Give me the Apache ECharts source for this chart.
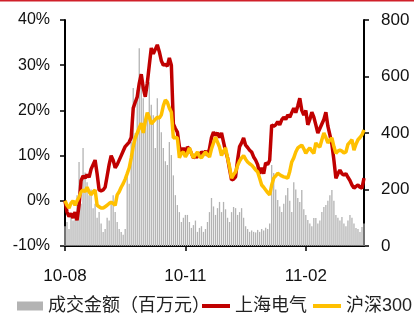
<!DOCTYPE html>
<html>
<head>
<meta charset="utf-8">
<script src="https://cdn.jsdelivr.net/npm/echarts@6/dist/echarts.min.js"></script>
<style>
html,body{margin:0;padding:0;background:#fff;}
#chart{width:414px;height:316px;}
</style>
</head>
<body>
<div id="chart"></div>
<script>
// Tick labels on the time axis and the category index they sit at
const tickLabels = ['10-08', '10-11', '11-02'];
const tickIndex = [0, 60, 120];

// 成交金额 (百万元), right axis
const volume = [
  70, 85, 60, 110, 90, 120, 180, 297, 150, 347,
  260, 226, 180, 200, 134, 150, 100, 120, 80, 50,
  60, 100, 90, 150, 180, 120, 85, 60, 50, 40,
  60, 262, 220, 368, 559, 400, 552, 700, 600, 523,
  450, 463, 580, 500, 463, 347, 523, 450, 403, 347,
  300, 287, 368, 322, 250, 180, 145, 120, 85, 100,
  110, 110, 85, 64, 74, 90, 50, 64, 70, 50,
  60, 85, 120, 170, 140, 110, 134, 156, 120, 156,
  130, 100, 85, 120, 138, 134, 110, 120, 134, 100,
  70, 60, 50, 55, 50, 48, 57, 50, 60, 55,
  65, 60, 80, 287, 258, 200, 163, 140, 120, 150,
  180, 205, 160, 120, 226, 200, 170, 156, 198, 130,
  110, 92, 80, 70, 99, 99, 80, 90, 120, 138,
  145, 160, 180, 198, 160, 110, 100, 90, 103, 80,
  70, 90, 110, 100, 80, 64, 60, 50, 67, 80
];

// 上海电气 cumulative return (%)
const shElectric = [
  0, -2.5, -3.5, -2.8, -3.8, -2.5, -4.3, -1, 4.5, 5.5,
  5.0, 5.8, 5.2, 7.0, 8.0, 9.0, 6.0, 2.4, 2.2, 2.4,
  3.0, 5.5, 8.0, 10.0, 9.0, 7.3, 8.0, 9.0, 10.0, 11.0,
  12.0, 12.5, 13.0, 14.0, 20.5, 21.8, 23.0, 26.0, 28.0, 25.0,
  23.0, 26.0, 30.0, 33.8, 32.5, 33.5, 34.5, 33.0, 31.0, 30.0,
  30.2, 29.8, 31.6, 30.0, 17.0, 16.0, 15.2, 12.0, 10.8, 11.7,
  10.5, 11.9, 11.5, 10.5, 9.5, 9.8, 9.7, 10.2, 10.8, 10.5,
  11.0, 10.0, 11.5, 14.0, 15.2, 14.5, 15.0, 14.0, 15.0, 13.0,
  11.0, 9.5, 7.0, 4.6, 4.8, 5.3, 9.0, 12.0, 12.8, 13.9,
  12.3, 11.8, 11.2, 10.8, 9.7, 9.0, 8.0, 6.0, 7.3, 6.0,
  8.4, 8.0, 9.0, 16.8, 16.5, 16.8, 17.5, 16.8, 17.9, 18.5,
  18.0, 19.0, 18.5, 19.5, 20.5, 19.5, 21.0, 22.7, 20.0, 19.0,
  20.0, 16.8, 18.0, 19.6, 18.5, 16.8, 15.0, 16.0, 17.0, 18.0,
  19.6, 16.5, 14.6, 12.5, 9.0, 5.0, 6.0, 6.8, 6.0, 5.7,
  6.0, 5.2, 4.5, 3.5, 2.8, 3.2, 3.5, 3.0, 2.8, 5.0
];

// 沪深300 cumulative return (%)
const hs300 = [
  0, -1.0, -1.6, -0.5, 0, -1.0, 0, 0.8, 2.0, 2.4,
  2.0, 3.0, 2.0, 1.3, 2.0, 2.4, -1.0, -1.3, -1.6, -1.6,
  -1.3, -1.0, -0.6, -0.3, -0.6, -1.0, 1.3, 2.0, 3.0, 3.8,
  4.8, 6.0, 7.3, 9.5, 12.0, 13.9, 15.0, 16.1, 17.2, 15.0,
  17.5, 19.5, 18.5, 17.0, 17.5, 18.0, 18.5, 18.3, 19.0, 21.0,
  22.3, 21.8, 20.5, 19.6, 13.9, 14.0, 13.9, 9.5, 10.5, 10.8,
  9.7, 10.5, 11.7, 10.5, 9.5, 10.2, 10.8, 9.8, 9.5, 10.2,
  10.8, 10.2, 9.7, 11.5, 12.8, 14.1, 13.0, 11.9, 10.0, 11.0,
  11.7, 9.5, 7.5, 5.0, 5.8, 6.4, 7.8, 8.8, 9.5, 10.0,
  9.2, 8.6, 8.2, 7.9, 7.4, 6.8, 6.4, 5.0, 3.5, 3.0,
  2.4, 1.8, 1.3, 3.5, 5.0, 5.5, 6.1, 5.8, 5.5, 5.3,
  5.2, 5.0, 6.5, 8.6, 9.5, 10.8, 11.7, 12.0, 12.3, 11.5,
  10.5, 11.2, 11.7, 11.0, 10.5, 12.8, 12.2, 11.9, 13.5, 15.0,
  14.0, 12.8, 13.5, 13.9, 12.0, 10.5, 11.0, 11.2, 11.0, 10.6,
  10.8, 12.5, 13.0, 13.5, 11.2, 12.5, 13.5, 14.0, 14.6, 15.7
];

const categories = volume.map((_, i) => i);
const seriesNames = ['成交金额（百万元）', '上海电气', '沪深300'];

const chart = echarts.init(document.getElementById('chart'), null, {renderer: 'canvas'});
const font = '"Liberation Sans", Arial, "Noto Sans CJK SC", sans-serif';
const showTick = (idx) => tickIndex.indexOf(idx) !== -1;
const legendText = {fontSize: 18, color: '#222', fontFamily: '"Liberation Sans", "Noto Sans CJK SC", sans-serif'};

chart.setOption({
  animation: false,
  textStyle: {fontFamily: font},
  graphic: [{
    type: 'rect', left: 0, top: 0,
    shape: {width: 414, height: 1.5},
    style: {fill: '#d0202a'}
  }],
  grid: {left: 65, right: 50, top: 20, bottom: 70},
  legend: [{
    left: 17, top: 297, padding: 0,
    itemWidth: 26, itemHeight: 9,
    textStyle: legendText,
    data: [{name: seriesNames[0], icon: 'rect'}]
  }, {
    left: 202, top: 297, padding: 0,
    itemWidth: 28, itemHeight: 4,
    textStyle: legendText,
    data: [{name: seriesNames[1], icon: 'rect'}]
  }, {
    left: 313, top: 297, padding: 0,
    itemWidth: 28, itemHeight: 4,
    textStyle: legendText,
    data: [{name: seriesNames[2], icon: 'rect'}]
  }],
  xAxis: {
    type: 'category',
    data: categories,
    boundaryGap: false,
    axisLine: {onZero: false, lineStyle: {color: '#000', width: 2}},
    axisTick: {show: true, interval: showTick, length: 5, lineStyle: {color: '#000', width: 1.5}},
    axisLabel: {
      interval: showTick, margin: 22, fontSize: 17, color: '#111',
      formatter: (v, idx) => tickLabels[tickIndex.indexOf(idx)] || ''
    },
    splitLine: {show: false}
  },
  yAxis: [{
    type: 'value', min: -10, max: 40, interval: 10, position: 'left',
    axisLine: {show: true, lineStyle: {color: '#000', width: 2}},
    axisTick: {show: true, length: 5, lineStyle: {color: '#000', width: 1.5}},
    axisLabel: {formatter: '{value}%', margin: 15, fontSize: 16, color: '#111'},
    splitLine: {show: false}
  }, {
    type: 'value', min: 0, max: 800, interval: 200, position: 'right',
    axisLine: {show: true, lineStyle: {color: '#000', width: 2}},
    axisTick: {show: true, length: 5, lineStyle: {color: '#000', width: 1.5}},
    axisLabel: {margin: 17, fontSize: 17, color: '#111'},
    splitLine: {show: false}
  }],
  series: [{
    name: seriesNames[0], type: 'bar', yAxisIndex: 1,
    data: volume, barCategoryGap: '35%',
    itemStyle: {color: '#b3b3b3'}
  }, {
    name: seriesNames[1], type: 'line', yAxisIndex: 0,
    data: shElectric, symbol: 'none', showSymbol: false,
    lineStyle: {color: '#c00000', width: 3.5}, itemStyle: {color: '#c00000'}
  }, {
    name: seriesNames[2], type: 'line', yAxisIndex: 0,
    data: hs300, symbol: 'none', showSymbol: false,
    lineStyle: {color: '#ffc000', width: 3.5}, itemStyle: {color: '#ffc000'}
  }]
});
</script>
</body>
</html>
